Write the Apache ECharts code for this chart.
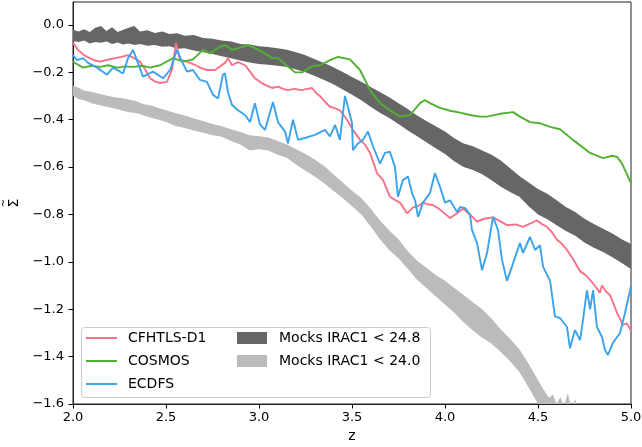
<!DOCTYPE html>
<html>
<head>
<meta charset="utf-8">
<script src="https://cdn.jsdelivr.net/npm/echarts@6/dist/echarts.min.js"></script>
<style>
html,body{margin:0;padding:0;background:#fff;}
#chart{width:642px;height:447px;}
</style>
</head>
<body>
<div id="chart"></div>
<script>
// ---- data ----
const xTicks = [2.0, 2.5, 3.0, 3.5, 4.0, 4.5, 5.0];
const yTicks = [-1.6, -1.4, -1.2, -1.0, -0.8, -0.6, -0.4, -0.2, 0.0];

const cfhtZ = [2.000,2.027,2.060,2.091,2.120,2.145,2.180,2.226,2.260,2.296,2.330,2.360,2.390,2.414,2.440,2.468,2.505,2.532,2.554,2.575,2.600,2.629,2.655,2.683,2.720,2.763,2.790,2.817,2.833,2.855,2.887,2.925,2.950,2.978,3.005,3.032,3.070,3.102,3.130,3.156,3.190,3.231,3.260,3.285,3.310,3.328,3.355,3.382,3.410,3.435,3.473,3.505,3.543,3.570,3.597,3.634,3.667,3.704,3.730,3.758,3.796,3.828,3.855,3.882,3.910,3.935,3.960,3.989,4.027,4.065,4.097,4.134,4.172,4.210,4.258,4.300,4.333,4.380,4.419,4.460,4.495,4.520,4.548,4.575,4.602,4.630,4.656,4.690,4.726,4.755,4.780,4.810,4.833,4.844,4.865,4.887,4.905,4.925,4.957,4.978,5.000];
const cfhtV = [-0.075,-0.105,-0.128,-0.140,-0.150,-0.155,-0.148,-0.140,-0.135,-0.127,-0.140,-0.155,-0.190,-0.225,-0.238,-0.245,-0.240,-0.190,-0.077,-0.148,-0.152,-0.160,-0.168,-0.180,-0.190,-0.190,-0.175,-0.160,-0.140,-0.170,-0.157,-0.170,-0.195,-0.225,-0.240,-0.253,-0.266,-0.260,-0.270,-0.275,-0.270,-0.275,-0.270,-0.266,-0.290,-0.300,-0.325,-0.345,-0.352,-0.360,-0.400,-0.443,-0.485,-0.505,-0.540,-0.625,-0.655,-0.725,-0.738,-0.750,-0.795,-0.770,-0.765,-0.750,-0.758,-0.760,-0.772,-0.790,-0.815,-0.795,-0.775,-0.800,-0.830,-0.818,-0.812,-0.830,-0.845,-0.842,-0.852,-0.838,-0.825,-0.840,-0.852,-0.875,-0.907,-0.925,-0.950,-0.990,-1.040,-1.055,-1.076,-1.105,-1.130,-1.100,-1.125,-1.140,-1.175,-1.215,-1.266,-1.260,-1.290];

const cosmosZ = [2.000,2.054,2.100,2.145,2.190,2.237,2.280,2.323,2.370,2.414,2.468,2.538,2.591,2.645,2.699,2.737,2.790,2.817,2.855,2.909,2.941,2.978,3.032,3.070,3.102,3.156,3.194,3.231,3.285,3.328,3.382,3.425,3.489,3.543,3.597,3.651,3.704,3.758,3.812,3.866,3.892,3.919,3.973,4.027,4.081,4.134,4.188,4.226,4.296,4.366,4.403,4.457,4.511,4.565,4.618,4.688,4.780,4.849,4.900,4.925,4.952,5.000];
const cosmosV = [-0.155,-0.180,-0.172,-0.177,-0.170,-0.180,-0.175,-0.177,-0.172,-0.180,-0.170,-0.140,-0.155,-0.145,-0.105,-0.120,-0.092,-0.085,-0.105,-0.093,-0.085,-0.098,-0.120,-0.140,-0.140,-0.175,-0.200,-0.200,-0.175,-0.170,-0.148,-0.135,-0.145,-0.190,-0.275,-0.330,-0.360,-0.387,-0.380,-0.330,-0.317,-0.330,-0.350,-0.362,-0.370,-0.380,-0.387,-0.387,-0.375,-0.368,-0.387,-0.410,-0.415,-0.430,-0.440,-0.485,-0.540,-0.562,-0.552,-0.557,-0.585,-0.668];

const ecdfsZ = [2.000,2.022,2.054,2.081,2.129,2.183,2.215,2.269,2.296,2.323,2.349,2.376,2.430,2.484,2.522,2.559,2.586,2.613,2.645,2.683,2.720,2.753,2.780,2.806,2.817,2.833,2.855,2.887,2.925,2.952,2.978,3.005,3.032,3.075,3.102,3.140,3.156,3.183,3.210,3.247,3.301,3.355,3.382,3.409,3.435,3.462,3.478,3.500,3.505,3.532,3.559,3.586,3.613,3.651,3.677,3.704,3.731,3.747,3.774,3.801,3.823,3.839,3.855,3.882,3.919,3.946,3.973,4.000,4.027,4.065,4.081,4.108,4.134,4.145,4.172,4.199,4.226,4.258,4.285,4.306,4.333,4.360,4.403,4.419,4.457,4.484,4.511,4.527,4.565,4.591,4.618,4.656,4.672,4.699,4.726,4.742,4.763,4.780,4.796,4.817,4.844,4.860,4.876,4.903,4.941,4.968,4.995,5.000];
const ecdfsV = [-0.127,-0.148,-0.140,-0.160,-0.180,-0.210,-0.180,-0.205,-0.140,-0.105,-0.160,-0.218,-0.197,-0.225,-0.190,-0.105,-0.155,-0.197,-0.190,-0.232,-0.240,-0.295,-0.310,-0.210,-0.204,-0.283,-0.338,-0.360,-0.380,-0.410,-0.330,-0.420,-0.443,-0.325,-0.410,-0.450,-0.500,-0.400,-0.485,-0.477,-0.464,-0.443,-0.470,-0.422,-0.485,-0.300,-0.345,-0.415,-0.528,-0.500,-0.485,-0.450,-0.513,-0.585,-0.540,-0.535,-0.600,-0.725,-0.655,-0.640,-0.710,-0.740,-0.810,-0.750,-0.710,-0.625,-0.683,-0.750,-0.740,-0.790,-0.768,-0.773,-0.800,-0.865,-0.920,-1.035,-0.963,-0.810,-0.865,-0.990,-1.080,-1.020,-0.920,-0.963,-0.895,-0.950,-0.930,-1.020,-1.080,-1.230,-1.237,-1.275,-1.365,-1.288,-1.330,-1.245,-1.120,-1.200,-1.120,-1.275,-1.317,-1.372,-1.393,-1.342,-1.300,-1.215,-1.120,-1.100];

const mock248Z = [2.00,2.03,2.06,2.09,2.12,2.15,2.18,2.21,2.24,2.27,2.30,2.33,2.36,2.40,2.44,2.48,2.52,2.56,2.60,2.65,2.70,2.75,2.80,2.85,2.90,2.95,3.00,3.05,3.10,3.15,3.20,3.25,3.30,3.35,3.40,3.45,3.50,3.55,3.60,3.65,3.70,3.75,3.80,3.85,3.90,3.95,4.00,4.05,4.10,4.15,4.20,4.25,4.30,4.35,4.40,4.45,4.50,4.55,4.60,4.65,4.70,4.75,4.80,4.85,4.90,4.95,5.00];
const mock248Hi = [-0.020,-0.028,-0.018,-0.030,-0.012,-0.004,-0.025,-0.010,-0.030,-0.020,-0.012,-0.004,-0.028,-0.022,-0.034,-0.028,-0.038,-0.035,-0.045,-0.042,-0.055,-0.058,-0.065,-0.070,-0.080,-0.082,-0.090,-0.093,-0.098,-0.105,-0.115,-0.128,-0.145,-0.160,-0.178,-0.198,-0.220,-0.240,-0.262,-0.283,-0.305,-0.330,-0.355,-0.382,-0.405,-0.428,-0.450,-0.478,-0.500,-0.512,-0.530,-0.548,-0.572,-0.605,-0.638,-0.665,-0.692,-0.712,-0.740,-0.768,-0.790,-0.818,-0.840,-0.860,-0.880,-0.905,-0.925];
const mock248Lo = [-0.068,-0.072,-0.066,-0.078,-0.072,-0.075,-0.070,-0.080,-0.074,-0.082,-0.078,-0.085,-0.080,-0.088,-0.084,-0.092,-0.090,-0.100,-0.098,-0.108,-0.115,-0.122,-0.132,-0.140,-0.150,-0.158,-0.165,-0.168,-0.172,-0.177,-0.188,-0.200,-0.215,-0.232,-0.250,-0.272,-0.295,-0.318,-0.345,-0.370,-0.393,-0.418,-0.445,-0.470,-0.495,-0.520,-0.545,-0.575,-0.600,-0.612,-0.630,-0.655,-0.683,-0.705,-0.725,-0.765,-0.800,-0.820,-0.845,-0.870,-0.890,-0.918,-0.940,-0.958,-0.980,-1.005,-1.030];

const mock240Z = [2.00,2.03,2.06,2.10,2.14,2.18,2.22,2.26,2.30,2.34,2.38,2.42,2.46,2.50,2.55,2.60,2.65,2.70,2.75,2.80,2.85,2.90,2.95,3.00,3.05,3.10,3.15,3.20,3.25,3.30,3.35,3.40,3.45,3.50,3.55,3.60,3.65,3.70,3.75,3.80,3.85,3.90,3.95,4.00,4.05,4.10,4.15,4.20,4.25,4.30,4.35,4.40,4.45,4.50,4.53,4.56,4.58,4.60,4.62,4.64,4.66,4.68,4.70,4.72,4.75,5.00];
const mock240Hi = [-0.255,-0.265,-0.278,-0.282,-0.290,-0.298,-0.305,-0.308,-0.315,-0.322,-0.335,-0.340,-0.350,-0.360,-0.372,-0.382,-0.395,-0.405,-0.418,-0.428,-0.440,-0.452,-0.465,-0.470,-0.475,-0.490,-0.505,-0.525,-0.545,-0.568,-0.595,-0.630,-0.665,-0.700,-0.730,-0.775,-0.825,-0.868,-0.905,-0.955,-0.995,-1.025,-1.055,-1.080,-1.110,-1.140,-1.170,-1.200,-1.240,-1.285,-1.325,-1.370,-1.430,-1.500,-1.540,-1.575,-1.560,-1.600,-1.570,-1.610,-1.555,-1.620,-1.580,-1.640,-1.680,-1.800];
const mock240Lo = [-0.300,-0.312,-0.318,-0.330,-0.338,-0.345,-0.352,-0.360,-0.368,-0.372,-0.382,-0.392,-0.400,-0.410,-0.425,-0.435,-0.445,-0.455,-0.465,-0.472,-0.490,-0.505,-0.530,-0.525,-0.530,-0.548,-0.560,-0.590,-0.615,-0.640,-0.668,-0.700,-0.730,-0.765,-0.800,-0.850,-0.905,-0.950,-0.985,-1.030,-1.075,-1.110,-1.145,-1.180,-1.215,-1.255,-1.290,-1.320,-1.345,-1.380,-1.420,-1.465,-1.530,-1.600,-1.650,-1.680,-1.690,-1.700,-1.700,-1.710,-1.720,-1.730,-1.740,-1.750,-1.780,-1.900];

// ---- chart ----
const FONT = 'DejaVu Sans';
const zip = (zs, vs) => zs.map((z, i) => [z, vs[i]]);
const fmt = v => (Math.abs(v) < 1e-9 ? '0.0' : v.toFixed(1).replace('-', '\u2212'));

function band(name, zs, hi, lo, color) {
  return {
    type: 'custom', name: name, coordinateSystem: 'cartesian2d', silent: true, z: 1,
    itemStyle: { color: color },
    data: zs.map((z, i) => [z, hi[i], lo[i]]),
    encode: { x: 0, y: [1, 2] },
    renderItem: function (params, api) {
      if (params.dataIndex !== 0) return null;
      const pts = [];
      for (let i = 0; i < zs.length; i++) pts.push(api.coord([zs[i], hi[i]]));
      for (let i = zs.length - 1; i >= 0; i--) pts.push(api.coord([zs[i], lo[i]]));
      const cs = params.coordSys;
      return {
        type: 'polygon', shape: { points: pts }, style: { fill: color },
        clipPath: { type: 'rect', shape: { x: cs.x, y: cs.y, width: cs.width, height: cs.height } }
      };
    }
  };
}
function curve(name, zs, vs, color) {
  return { type: 'line', name: name, data: zip(zs, vs), symbol: 'none', showSymbol: false, silent: true,
    color: color, itemStyle: { color: color }, lineStyle: { color: color, width: 1.9 }, z: 3 };
}

const chart = echarts.init(document.getElementById('chart'), null, { renderer: 'canvas' });
chart.setOption({
  animation: false,
  backgroundColor: '#ffffff',
  textStyle: { fontFamily: FONT },
  grid: { left: 73, right: 11, top: 2, bottom: 43, containLabel: false, outerBoundsMode: 'none',
          show: true, borderColor: '#222', borderWidth: 1, backgroundColor: 'transparent' },
  xAxis: {
    type: 'value', min: 2.0, max: 5.0, interval: 0.5,
    name: 'z', nameLocation: 'middle', nameGap: 24,
    nameTextStyle: { fontFamily: FONT, fontSize: 14, color: '#000' },
    axisLine: { show: true, onZero: false, lineStyle: { color: '#222', width: 1 } },
    axisTick: { show: true, length: 4.5, lineStyle: { color: '#000', width: 1 }, customValues: xTicks },
    axisLabel: { fontFamily: FONT, fontSize: 13, color: '#000', margin: 7, formatter: fmt, customValues: xTicks },
    splitLine: { show: false }
  },
  yAxis: {
    type: 'value', min: -1.6, max: 0.097, interval: 0.2,
    name: '{t|~}\n{s|Σ}', nameLocation: 'middle', nameGap: 52, nameRotate: 90,
    nameTextStyle: { fontFamily: FONT, fontSize: 14, color: '#000',
      rich: { t: { fontFamily: FONT, fontSize: 10, lineHeight: 5, color: '#000' },
              s: { fontFamily: FONT, fontSize: 14, lineHeight: 14, color: '#000' } } },
    axisLine: { show: true, onZero: false, lineStyle: { color: '#222', width: 1 } },
    axisTick: { show: true, length: 4.5, lineStyle: { color: '#000', width: 1 }, customValues: yTicks },
    axisLabel: { fontFamily: FONT, fontSize: 13, color: '#000', margin: 9, formatter: fmt, customValues: yTicks },
    splitLine: { show: false }
  },
  legend: [
    { data: [{ name: 'CFHTLS-D1', icon: 'rect' }, { name: 'COSMOS', icon: 'rect' }, { name: 'ECDFS', icon: 'rect' }],
      orient: 'vertical', left: 86, top: 329, padding: 0,
      itemWidth: 31, itemHeight: 2, itemGap: 5, selectedMode: false,
      textStyle: { fontFamily: FONT, fontSize: 14, color: '#000', lineHeight: 18, padding: [0, 0, 0, 6] } },
    { data: [{ name: 'Mocks IRAC1 < 24.8', icon: 'rect' }, { name: 'Mocks IRAC1 < 24.0', icon: 'rect' }],
      orient: 'vertical', left: 237, top: 329, padding: 0,
      itemWidth: 30, itemHeight: 12, itemGap: 5, selectedMode: false,
      textStyle: { fontFamily: FONT, fontSize: 14, color: '#000', lineHeight: 18, padding: [0, 0, 0, 7] } }
  ],
  graphic: [
    { type: 'rect', left: 81, top: 327, z: 3, silent: true,
      shape: { width: 349, height: 70, r: 3 },
      style: { fill: 'rgba(255,255,255,0.8)', stroke: '#cccccc', lineWidth: 1 } }
  ],
  series: [
    band('Mocks IRAC1 < 24.8', mock248Z, mock248Hi, mock248Lo, '#666666'),
    band('Mocks IRAC1 < 24.0', mock240Z, mock240Hi, mock240Lo, '#bbbbbb'),
    curve('CFHTLS-D1', cfhtZ, cfhtV, '#f77189'),
    curve('COSMOS', cosmosZ, cosmosV, '#50b131'),
    curve('ECDFS', ecdfsZ, ecdfsV, '#3ba3ec')
  ]
});
</script>
</body>
</html>
